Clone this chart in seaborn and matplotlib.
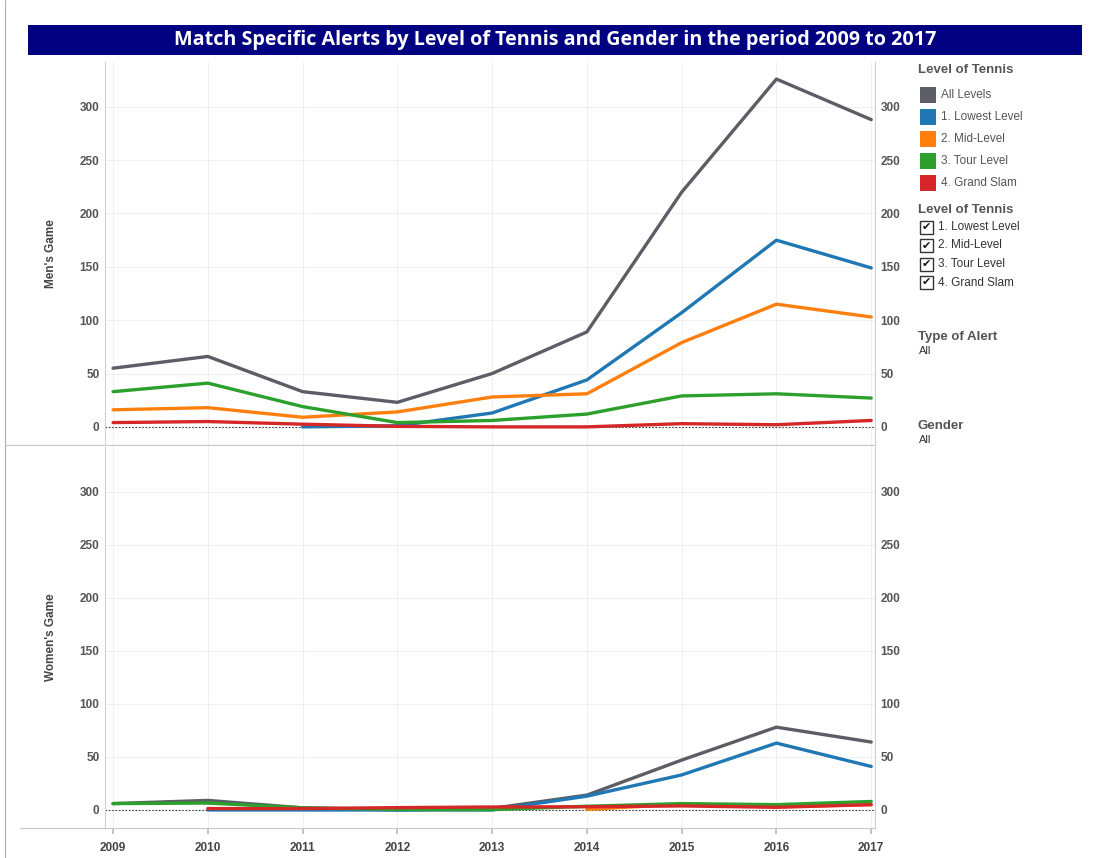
import numpy as np
import pandas as pd
import matplotlib
matplotlib.use("Agg")
import matplotlib.pyplot as plt
import seaborn as sns
from matplotlib.patches import Rectangle
from matplotlib.lines import Line2D

years = [2009, 2010, 2011, 2012, 2013, 2014, 2015, 2016, 2017]
levels = ["All Levels", "1. Lowest Level", "2. Mid-Level", "3. Tour Level", "4. Grand Slam"]
nan = np.nan

men_all = [55, 66, 33, 23, 50, 89, 220, 326, 288]
men_lowest = [nan, nan, 0, 1, 13, 44, 107, 175, 149]
men_mid = [16, 18, 9, 14, 28, 31, 79, 115, 103]
men_tour = [33, 41, 19, 4, 6, 12, 29, 31, 27]
men_slam = [4, 5, 2.5, 0.5, 0, 0, 3, 2, 6]

women_all = [6, 9, 2, 0, 1.5, 14, 47, 78, 64]
women_lowest = [nan, 0, 0, 0, 0, 13, 33, 63, 41]
women_mid = [nan, nan, nan, nan, nan, 0.5, 5.5, 3, 5]
women_tour = [6, 6.5, 2, 0.5, 0.3, 3.5, 6, 5, 8]
women_slam = [nan, 1.3, 1.3, 2.2, 2.8, 3, 3.8, 2.5, 5]

colors = ["#5b5e64", "#1f77b4", "#ff7f0e", "#2ca02c", "#d62728"]
palette = dict(zip(levels, colors))

def make_df(series):
    rows = []
    for lvl, vals in zip(levels, series):
        for y, v in zip(years, vals):
            rows.append({"Year": y, "Level": lvl, "Alerts": v})
    return pd.DataFrame(rows).dropna()

df_men = make_df([men_all, men_lowest, men_mid, men_tour, men_slam])
df_women = make_df([women_all, women_lowest, women_mid, women_tour, women_slam])

sns.set_theme(style="white")
plt.rcParams['font.family'] = ['Liberation Sans', 'DejaVu Sans']

W, H = 1096, 858
fig = plt.figure(figsize=(W / 100, H / 100), dpi=100)

def px_axes(x0, y0, x1, y1):
    return fig.add_axes([x0 / W, 1 - y1 / H, (x1 - x0) / W, (y1 - y0) / H])

# title bar
fig.patches.append(Rectangle((28 / W, 1 - 55 / H), (1082 - 28) / W, 30 / H,
                             transform=fig.transFigure, facecolor="#000080",
                             edgecolor="none"))
fig.text(555 / W, 1 - 40 / H, "Match Specific Alerts by Level of Tennis and Gender in the period 2009 to 2017",
         color="white", fontsize=14.2, fontweight="bold", ha="center", va="center",
         family=["Open Sans", "DejaVu Sans"])

# frame lines
fig.lines.append(Line2D([5 / W, 5 / W], [0, 1], transform=fig.transFigure, color="#b0b0b0", lw=0.8))
fig.lines.append(Line2D([5 / W, 875 / W], [1 - 445 / H, 1 - 445 / H], transform=fig.transFigure, color="#c8c8c8", lw=0.8))
fig.lines.append(Line2D([20 / W, 875 / W], [1 - 828 / H, 1 - 828 / H], transform=fig.transFigure, color="#c8c8c8", lw=0.8))

ax1 = px_axes(105, 62, 875, 445)
ax2 = px_axes(105, 447, 875, 828)

for ax, df, ylab in [(ax1, df_men, "Men's Game"), (ax2, df_women, "Women's Game")]:
    sns.lineplot(data=df, x="Year", y="Alerts", hue="Level", hue_order=levels,
                 palette=palette, linewidth=2.4, ax=ax, legend=False, estimator=None)
    ax.set_xlim(2008.915, 2017.04)
    ax.set_ylim(-17, 342)
    ax.set_yticks([0, 50, 100, 150, 200, 250, 300])
    ax.set_xticks(years)
    ax.grid(True, color="#f0f0f0", lw=0.8)
    ax.set_axisbelow(True)
    ax.axhline(0, color="#444444", lw=0.8, ls=(0, (1.5, 1.5)), zorder=1)
    for s in ["top", "bottom"]:
        ax.spines[s].set_visible(False)
    for s in ["left", "right"]:
        ax.spines[s].set_visible(True)
        ax.spines[s].set_color("#d0d0d0")
        ax.spines[s].set_linewidth(0.8)
    ax.tick_params(axis="y", left=False, right=False, length=0, labelleft=True, labelright=True,
                   labelsize=8.5, labelcolor="#555555", pad=4)
    for lab in ax.get_yticklabels():
        lab.set_fontweight("bold")
    ax.set_ylabel(ylab, fontsize=8.5, fontweight="bold", color="#444444")
    ax.yaxis.set_label_coords(-48 / 770, 0.5)
    ax.set_xlabel("")

ax1.tick_params(axis="x", bottom=False, labelbottom=False)
ax2.tick_params(axis="x", bottom=True, length=4, color="#bbbbbb", labelsize=8.5,
                labelcolor="#444444", pad=6)
for lab in ax2.get_xticklabels():
    lab.set_fontweight("bold")

# legend
lx = 918
fig.text(lx / W, 1 - 70 / H, "Level of Tennis", fontsize=9.5, fontweight="bold",
         color="#555555", va="center")
for i, (lvl, c) in enumerate(zip(levels, colors)):
    yc = 95 + i * 22
    fig.patches.append(Rectangle((920 / W, 1 - (yc + 8) / H), 16 / W, 16 / H,
                                 transform=fig.transFigure, facecolor=c, edgecolor="none"))
    fig.text(941 / W, 1 - yc / H, lvl, fontsize=8.5, color="#555555", va="center")

fig.text(lx / W, 1 - 210 / H, "Level of Tennis", fontsize=9.5, fontweight="bold",
         color="#555555", va="center")
for i, lvl in enumerate(levels[1:]):
    yc = 227 + i * 18.5
    fig.patches.append(Rectangle((920 / W, 1 - (yc + 6.5) / H), 13 / W, 13 / H,
                                 transform=fig.transFigure, facecolor="white",
                                 edgecolor="#333333", lw=1.0))
    fig.text(926.5 / W, 1 - yc / H, "\u2714", fontsize=8, color="#111111", va="center",
             ha="center", family=["DejaVu Sans"])
    fig.text(938 / W, 1 - yc / H, lvl, fontsize=8.5, color="#333333", va="center")

fig.text(lx / W, 1 - 337 / H, "Type of Alert", fontsize=9.5, fontweight="bold",
         color="#555555", va="center")
fig.text(919 / W, 1 - 351 / H, "All", fontsize=8, color="#333333", va="center")
fig.text(lx / W, 1 - 426 / H, "Gender", fontsize=9.5, fontweight="bold",
         color="#555555", va="center")
fig.text(919 / W, 1 - 440 / H, "All", fontsize=8, color="#333333", va="center")

fig.savefig("out.png", dpi=100)
